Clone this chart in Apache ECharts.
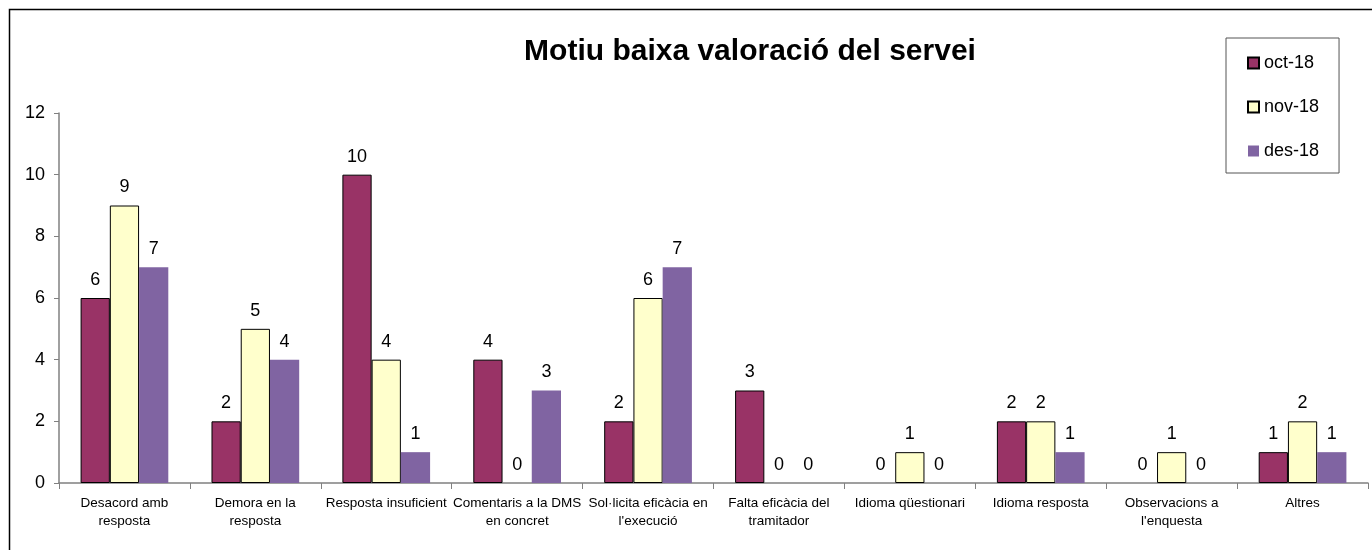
<!DOCTYPE html>
<html>
<head>
<meta charset="utf-8">
<script src="https://cdn.jsdelivr.net/npm/echarts@6/dist/echarts.min.js"></script>
<style>
  html, body { margin: 0; padding: 0; background: #fff; }
  #chart { width: 1372px; height: 550px; }
</style>
</head>
<body>
<div id="chart"></div>
<script>
// Reasons given for a low service rating, per month
const categories = [
  'Desacord amb\nresposta',
  'Demora en la\nresposta',
  'Resposta insuficient',
  'Comentaris a la DMS\nen concret',
  'Sol·licita eficàcia en\nl\'execució',
  'Falta eficàcia del\ntramitador',
  'Idioma qüestionari',
  'Idioma resposta',
  'Observacions a\nl\'enquesta',
  'Altres'
];
const oct18 = [6, 2, 10, 4, 2, 3, 0, 2, 0, 1];
const nov18 = [9, 5, 4, 0, 6, 0, 1, 2, 1, 2];
const des18 = [7, 4, 1, 3, 7, 0, 0, 1, 0, 1];
const seriesNames = ['oct-18', 'nov-18', 'des-18'];
const yTicks = [0, 2, 4, 6, 8, 10, 12];

const FONT = '"Liberation Sans", Arial, sans-serif';

const valueLabel = {
  show: true,
  position: 'top',
  distance: 9,
  color: '#000',
  fontFamily: FONT,
  fontSize: 18
};

// zero-height bars keep their label but draw no outline
const withOutline = values => values.map(v => (v === 0
  ? { value: v, itemStyle: { borderWidth: 0 } }
  : v));

const chart = echarts.init(document.getElementById('chart'));
chart.setOption({
  animation: false,
  backgroundColor: '#fff',
  graphic: [{
    type: 'rect',
    shape: { x: 9.5, y: 9.5, width: 1400, height: 600 },
    style: { fill: 'none', stroke: '#000', lineWidth: 1.5 },
    silent: true
  }],
  title: {
    text: 'Motiu baixa valoració del servei',
    left: 745,
    top: 32,
    textAlign: 'center',
    textStyle: { fontFamily: FONT, fontSize: 30, fontWeight: 'bold', color: '#000' }
  },
  legend: {
    orient: 'vertical',
    left: 1226,
    top: 38,
    padding: [16, 20, 13, 21],
    itemGap: 26,
    itemWidth: 11,
    itemHeight: 11,
    backgroundColor: '#fff',
    borderColor: '#555',
    borderWidth: 1,
    borderRadius: 0,
    textStyle: { fontFamily: FONT, fontSize: 18, color: '#000' },
    data: seriesNames.map(n => ({ name: n, icon: 'rect' }))
  },
  grid: {
    left: 59,
    right: 4,
    top: 113,
    bottom: 67,
    containLabel: false
  },
  xAxis: {
    type: 'category',
    data: categories,
    axisLine: { lineStyle: { color: '#808080', width: 1.5 } },
    axisTick: { show: true, length: 6, lineStyle: { color: '#808080' } },
    axisLabel: {
      interval: 0,
      margin: 11,
      fontFamily: FONT,
      fontSize: 13.5,
      lineHeight: 18,
      color: '#000'
    }
  },
  yAxis: {
    type: 'value',
    min: 0,
    max: 12,
    interval: 2,
    axisLine: { show: true, lineStyle: { color: '#808080', width: 1.5 } },
    axisTick: { show: true, length: 5, lineStyle: { color: '#808080' } },
    splitLine: { show: false },
    axisLabel: {
      margin: 14,
      fontFamily: FONT,
      fontSize: 18,
      color: '#000',
      formatter: v => (yTicks.includes(v) ? String(v) : '')
    }
  },
  series: [
    {
      name: seriesNames[0],
      type: 'bar',
      data: withOutline(oct18),
      barGap: '0%',
      barCategoryGap: '33%',
      itemStyle: { color: '#993366', borderColor: '#000', borderWidth: 1 },
      label: valueLabel
    },
    {
      name: seriesNames[1],
      type: 'bar',
      data: withOutline(nov18),
      barGap: '0%',
      barCategoryGap: '33%',
      itemStyle: { color: '#FFFFCC', borderColor: '#000', borderWidth: 1 },
      label: valueLabel
    },
    {
      name: seriesNames[2],
      type: 'bar',
      data: des18,
      barGap: '0%',
      barCategoryGap: '33%',
      itemStyle: { color: '#8064A2' },
      label: valueLabel
    }
  ]
});
</script>
</body>
</html>
